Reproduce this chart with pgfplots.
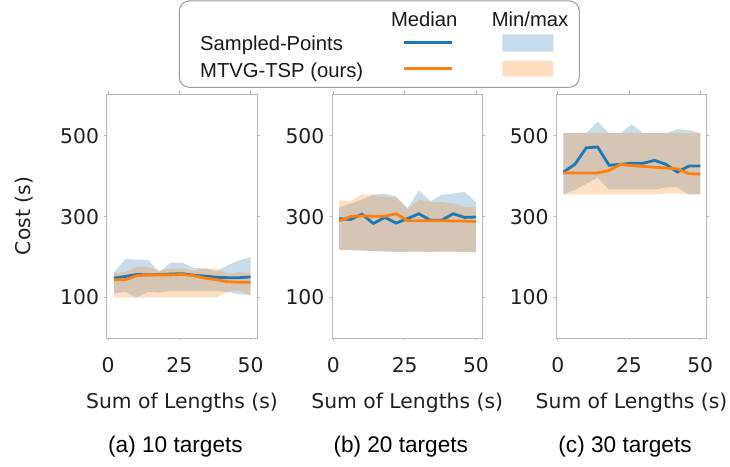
\documentclass[border=0pt]{standalone}
\usepackage{pgfplots}
\pgfplotsset{compat=1.18}
\usepgfplotslibrary{fillbetween}
\usepackage{pgfplotstable}
\usepackage{fontspec}
\setmainfont{Liberation Sans}
\newfontfamily\dejavu{DejaVu Sans}
\definecolor{cA}{HTML}{1F77B4}
\definecolor{cB}{HTML}{FF7F0E}

\pgfplotstableread{
x bmed omed bmax bmin omax omin
2  148 144 161 110 161 100
6  152 144 195 114 163 100
10 157 154 194 100 177 100
14 156 156 193 114 176 100
18 157 156 163 112 167 100
22 158 156 186 116 172 100
26 159 157 186 116 172 100
30 155 154 173 116 167 100
34 153 148 172 116 171 100
38 150 144 165 116 172 100
42 149 139 180 114 159 114
46 149 138 192 108 163 118
50 151 138 200 106 161 103
}\dataA

\pgfplotstableread{
x bmed omed bmax bmin omax omin
2  295 289 322 218 340 218
6  293 300 332 217 338 217
10 306 302 342 216 355 216
14 283 301 354 215 353 215
18 298 301 357 214 350 214
22 284 307 349 213 347 213
26 295 290 321 213 318 214
30 307 290 365 214 342 213
34 291 290 338 213 336 212
38 291 290 354 214 336 213
42 307 289 357 214 332 213
46 298 289 361 213 324 212
50 299 288 336 212 324 211
}\dataB

\pgfplotstableread{
x bmed omed bmax bmin omax omin
2  410 408 506 355 506 355
6  429 408 506 366 506 355
10 470 408 506 381 506 355
14 472 408 535 396 506 355
18 427 414 506 367 506 355
22 429 429 506 367 506 355
26 432 426 528 367 506 355
30 432 424 506 367 506 355
34 439 422 506 367 506 355
38 429 420 506 372 506 357
42 410 418 516 372 506 357
46 425 406 514 355 506 355
50 425 405 506 355 506 355
}\dataC

\newcommand{\tickfont}{\dejavu\fontsize{20.4}{24}\selectfont}
\newcommand{\capfont}{\fontsize{22.7}{27}\selectfont}
\pgfplotsset{
  panel/.style={
    scale only axis, width=150.5bp, height=244bp,
    anchor=south west, clip=false,
    xmin=-0.5, xmax=52.3, ymin=0, ymax=603,
    xtick={0,25,50}, ytick={100,300,500},
    tick align=outside, major tick length=2.5bp,
    tick style={black!30, line width=0.6bp},
    axis line style={black!28, line width=0.8bp},
    ticklabel style={font=\tickfont, text=black!88},
    /pgf/number format/assume math mode=true,
    xticklabel style={anchor=north, inner sep=0pt, yshift=-17bp},
    yticklabel style={anchor=east, inner sep=0pt, xshift=-5bp},
    xlabel={Sum of Lengths (s)},
    xlabel style={at={(axis description cs:0.5,0)}, anchor=center, yshift=-65bp, font=\tickfont, text=black!88, inner sep=0pt},
  },
  bandA/.style={draw=none, fill=cA, fill opacity=0.25},
  bandB/.style={draw=none, fill=cB, fill opacity=0.25},
  medA/.style={cA, line width=2.8bp},
  medB/.style={cB, line width=2.8bp},
}

\begin{document}
\begin{tikzpicture}

\begin{axis}[panel, at={(106.7bp,129bp)},
  ylabel={Cost (s)},
  ylabel style={at={(axis description cs:-0.549,0.5)}, anchor=center, font=\tickfont, text=black!88, inner sep=0pt}]
  \addplot[name path=bmax, draw=none] table[x=x, y=bmax] {\dataA};
  \addplot[name path=bmin, draw=none] table[x=x, y=bmin] {\dataA};
  \addplot[name path=omax, draw=none] table[x=x, y=omax] {\dataA};
  \addplot[name path=omin, draw=none] table[x=x, y=omin] {\dataA};
  \addplot[bandA] fill between[of=bmax and bmin];
  \addplot[bandB] fill between[of=omax and omin];
  \addplot[medA] table[x=x, y=bmed] {\dataA};
  \addplot[medB] table[x=x, y=omed] {\dataA};
\node[font=\capfont, anchor=center, inner sep=0pt, xshift=-6.5bp, yshift=-108.7bp] at (rel axis cs:0.5,0) {(a) 10 targets};
\end{axis}

\begin{axis}[panel, at={(332bp,129bp)}]
  \addplot[name path=bmax, draw=none] table[x=x, y=bmax] {\dataB};
  \addplot[name path=bmin, draw=none] table[x=x, y=bmin] {\dataB};
  \addplot[name path=omax, draw=none] table[x=x, y=omax] {\dataB};
  \addplot[name path=omin, draw=none] table[x=x, y=omin] {\dataB};
  \addplot[bandA] fill between[of=bmax and bmin];
  \addplot[bandB] fill between[of=omax and omin];
  \addplot[medA] table[x=x, y=bmed] {\dataB};
  \addplot[medB] table[x=x, y=omed] {\dataB};
\node[font=\capfont, anchor=center, inner sep=0pt, xshift=-6.5bp, yshift=-108.7bp] at (rel axis cs:0.5,0) {(b) 20 targets};
\end{axis}

\begin{axis}[panel, at={(556.3bp,129bp)}]
  \addplot[name path=bmax, draw=none] table[x=x, y=bmax] {\dataC};
  \addplot[name path=bmin, draw=none] table[x=x, y=bmin] {\dataC};
  \addplot[name path=omax, draw=none] table[x=x, y=omax] {\dataC};
  \addplot[name path=omin, draw=none] table[x=x, y=omin] {\dataC};
  \addplot[bandA] fill between[of=bmax and bmin];
  \addplot[bandB] fill between[of=omax and omin];
  \addplot[medA] table[x=x, y=bmed] {\dataC};
  \addplot[medB] table[x=x, y=omed] {\dataC};
\node[font=\capfont, anchor=center, inner sep=0pt, xshift=-6.5bp, yshift=-108.7bp] at (rel axis cs:0.5,0) {(c) 30 targets};
\end{axis}

% legend
\draw[black!40, line width=1bp, rounded corners=10bp, fill=white] (179.3bp,379.7bp) rectangle (579.3bp,466bp);
\begin{scope}[every node/.style={font=\fontsize{20.3}{24}\selectfont, text=black!90, inner sep=0pt}]
\node[anchor=base] at (424.3bp,440.1bp) {Median};
\node[anchor=base] at (530bp,440.1bp) {Min/max};
\node[anchor=base west] at (200bp,416.8bp) {Sampled-Points};
\node[anchor=base west] at (200bp,389.8bp) {MTVG-TSP (ours)};
\end{scope}
\draw[cA, line width=2.6bp] (404.3bp,424.3bp) -- (451.7bp,424.3bp);
\draw[cB, line width=2.6bp] (404.3bp,398.7bp) -- (451.7bp,398.7bp);
\fill[cA, fill opacity=0.25, rounded corners=1bp] (502.3bp,415.3bp) rectangle (553.3bp,432.7bp);
\fill[cB, fill opacity=0.25, rounded corners=1bp] (502.3bp,390.3bp) rectangle (553.3bp,406.3bp);

\pgfresetboundingbox
\useasboundingbox (0bp,0bp) rectangle (730bp,467bp);
\end{tikzpicture}
\end{document}
